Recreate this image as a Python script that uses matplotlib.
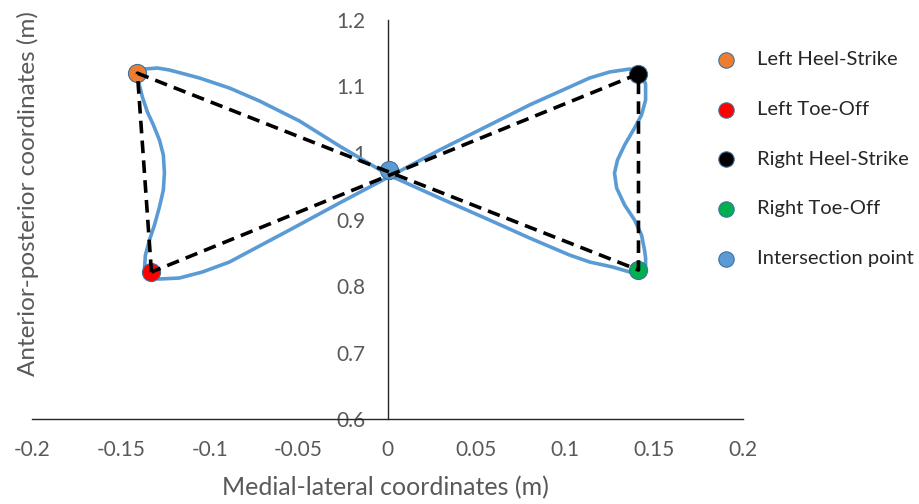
import matplotlib.pyplot as plt

# Trayectoria (mariposa)
curva_x = [-0.1396, -0.1367, -0.1294, -0.1227, -0.1142, -0.1058, -0.0974, -0.0889, -0.0720,
           -0.0495, -0.0270, 0.0006, 0.0293, 0.0574, 0.0799, 0.1024, 0.1137, 0.1266, 0.1362,
           0.1418, 0.1452, 0.1452, 0.1446, 0.1429, 0.1390, 0.1334, 0.1289, 0.1277, 0.1294,
           0.1334, 0.1390, 0.1429, 0.1452, 0.1452, 0.1424, 0.1362, 0.1249, 0.1137, 0.1024,
           0.0799, 0.0574, 0.0293, 0.0006, -0.0270, -0.0551, -0.0720, -0.0889, -0.1041,
           -0.1171, -0.1283, -0.1339, -0.1367, -0.1362, -0.1339, -0.1311, -0.1283, -0.1261,
           -0.1255, -0.1261, -0.1283, -0.1317, -0.1351, -0.1379, -0.1396, -0.1396]
curva_y = [1.1173, 1.1263, 1.1278, 1.1248, 1.1188, 1.1128, 1.1053, 1.0977, 1.0782,
           1.0481, 1.0105, 0.9669, 0.9323, 0.8992, 0.8722, 0.8466, 0.8361, 0.8286, 0.8211,
           0.8165, 0.8271, 0.8421, 0.8541, 0.8767, 0.8992, 0.9218, 0.9474, 0.9699, 0.9895,
           1.0120, 1.0376, 1.0571, 1.0797, 1.1038, 1.1218, 1.1263, 1.1218, 1.1128, 1.0992,
           1.0722, 1.0421, 1.0045, 0.9639, 0.9248, 0.8842, 0.8602, 0.8361, 0.8211,
           0.8120, 0.8105, 0.8135, 0.8271, 0.8466, 0.8692, 0.8917, 0.9188, 0.9444,
           0.9699, 0.9970, 1.0195, 1.0421, 1.0617, 1.0842, 1.1023, 1.1173]

# Eventos de la marcha
eventos = ["Left Heel-Strike", "Left Toe-Off", "Right Heel-Strike", "Right Toe-Off", "Intersection point"]
eventos_x = [-0.1407, -0.1328, 0.1412, 0.1412, 0.0006]
eventos_y = [1.120, 0.821, 1.119, 0.824, 0.974]
colores = ["#ED7D31", "#FF0000", "#000000", "#00B050", "#5B9BD5"]

# Lineas discontinuas: LTO -> LHS -> RTO -> RHS -> LTO
orden = [1, 0, 3, 2, 1]

xticks = [-0.2, -0.15, -0.1, -0.05, 0, 0.05, 0.1, 0.15, 0.2]
xtick_labels = ["-0.2", "-0.15", "-0.1", "-0.05", "0", "0.05", "0.1", "0.15", "0.2"]
yticks = [0.6, 0.7, 0.8, 0.9, 1.0, 1.1, 1.2]
ytick_labels = ["0.6", "0.7", "0.8", "0.9", "1", "1.1", "1.2"]

plt.rcParams['font.family'] = ['Lato', 'DejaVu Sans']
gris = "#595959"

fig = plt.figure(figsize=(9.2, 5.04), dpi=100)
ax = fig.add_axes([32 / 920, 1 - 419 / 504, (743 - 32) / 920, (419 - 20) / 504])

ax.plot(curva_x, curva_y, color="#5B9BD5", lw=2.6, solid_joinstyle="round", zorder=2)

handles = []
for i in range(len(eventos)):
    h = ax.scatter([eventos_x[i]], [eventos_y[i]], s=170, color=colores[i],
                   edgecolors="#41719C", linewidths=0.8, zorder=3, label=eventos[i])
    handles.append(h)

ax.plot([eventos_x[i] for i in orden], [eventos_y[i] for i in orden], color="black",
        lw=2.6, linestyle=(0, (3.5, 2)), zorder=4)

ax.set_xlim(-0.2, 0.2)
ax.set_ylim(0.6, 1.2)
ax.set_xticks(xticks)
ax.set_xticklabels(xtick_labels)
ax.set_yticks(yticks)
ax.set_yticklabels(ytick_labels)

ax.spines['top'].set_visible(False)
ax.spines['right'].set_visible(False)
ax.spines['left'].set_position(('data', 0))
for s in ['left', 'bottom']:
    ax.spines[s].set_color("#262626")
    ax.spines[s].set_linewidth(1.0)
ax.tick_params(axis='both', length=0, labelsize=15, labelcolor=gris)
ax.tick_params(axis='y', pad=16)
ax.tick_params(axis='x', pad=15)

fig.text(385 / 920, 1 - 488 / 504, "Medial-lateral coordinates (m)", ha="center", va="center",
         fontsize=18, color=gris)
fig.text(28 / 920, 1 - 194 / 504, "Anterior-posterior coordinates (m)", ha="center", va="center",
         rotation=90, fontsize=17.5, color=gris)

leg = fig.legend(handles=handles, loc="upper left", bbox_to_anchor=(698 / 920, 1 - 43 / 504),
                 frameon=False, fontsize=14.5, labelspacing=1.62, handletextpad=0.55,
                 markerscale=0.85, borderaxespad=0)
for t in leg.get_texts():
    t.set_color("#262626")

fig.savefig("out.png", dpi=100)
